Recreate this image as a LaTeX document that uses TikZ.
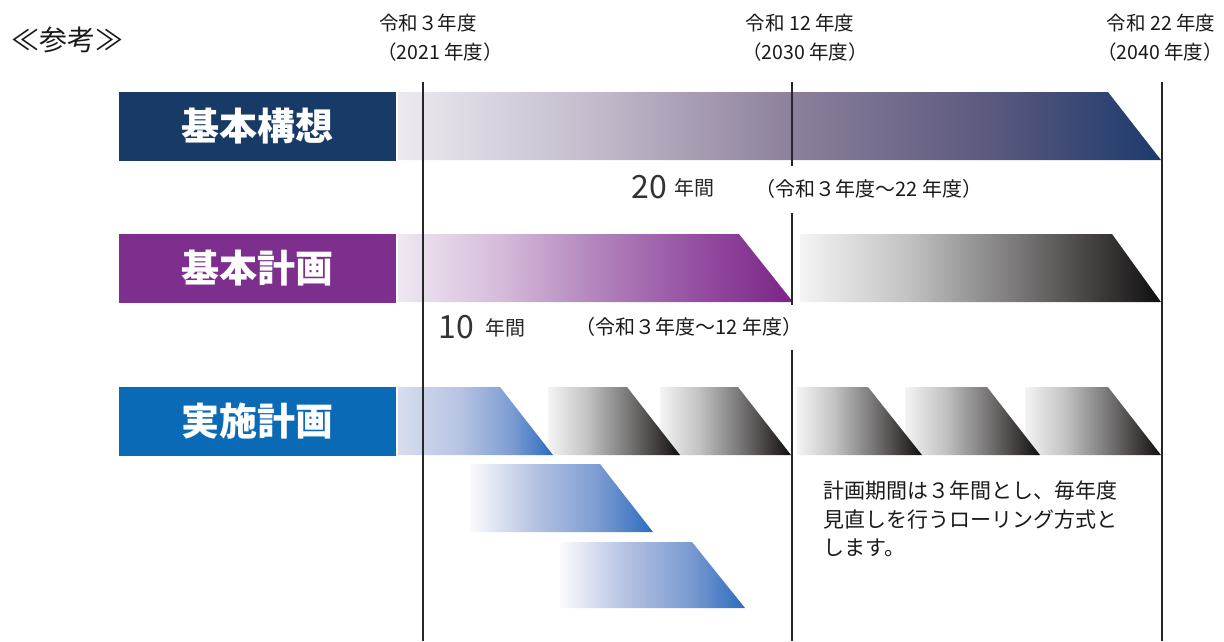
\documentclass[tikz,border=0pt]{standalone}
\usepackage{fontspec}
\setmainfont{Noto Sans CJK JP}
\definecolor{navy}{HTML}{173A66}
\definecolor{purp}{HTML}{7E2F8E}
\definecolor{jblue}{HTML}{0B6AB6}
\definecolor{txt}{HTML}{1A1A1A}
% bar 1 colours
\definecolor{ka}{HTML}{ECEAF0}
\definecolor{kb}{HTML}{C3BACB}
\definecolor{kc}{HTML}{8B7F9B}
\definecolor{kd}{HTML}{5A587E}
\definecolor{ke}{HTML}{1B3B6C}
% purple
\definecolor{pa}{HTML}{EFE8F1}
\definecolor{pb}{HTML}{D5BBDA}
\definecolor{pc}{HTML}{AF80B9}
\definecolor{pd}{HTML}{924A9F}
\definecolor{pe}{HTML}{7B2487}
% gray
\definecolor{ga}{HTML}{F4F4F4}
\definecolor{gb}{HTML}{C2C2C2}
\definecolor{gc}{HTML}{7A7878}
\definecolor{gd}{HTML}{3C3838}
\definecolor{ge}{HTML}{0E0E0E}
% blue
\definecolor{ba}{HTML}{D8DDEE}
\definecolor{bw}{HTML}{FBFBFE}
\definecolor{bb}{HTML}{B7C4E3}
\definecolor{bc}{HTML}{7B9BD1}
\definecolor{bd}{HTML}{2C6CBF}
\pgfdeclarehorizontalshading{shKousou}{100bp}{color(0bp)=(ka); color(25bp)=(ka); color(38bp)=(kb); color(51bp)=(kc); color(64bp)=(kd); color(75bp)=(ke); color(100bp)=(ke)}
\pgfdeclarehorizontalshading{shPurple}{100bp}{color(0bp)=(pa); color(25bp)=(pa); color(38bp)=(pb); color(51bp)=(pc); color(64bp)=(pd); color(75bp)=(pe); color(100bp)=(pe)}
\pgfdeclarehorizontalshading{shGray}{100bp}{color(0bp)=(ga); color(25bp)=(ga); color(40bp)=(gb); color(55bp)=(gc); color(67bp)=(gd); color(75bp)=(ge); color(100bp)=(ge)}
\pgfdeclarehorizontalshading{shBlueA}{100bp}{color(0bp)=(ba); color(25bp)=(ba); color(45bp)=(bb); color(62bp)=(bc); color(75bp)=(bd); color(100bp)=(bd)}
\pgfdeclarehorizontalshading{shBlueF}{100bp}{color(0bp)=(bw); color(25bp)=(bw); color(42bp)=(bb); color(60bp)=(bc); color(75bp)=(bd); color(100bp)=(bd)}
\begin{document}
\begin{tikzpicture}[x=1pt,y=-1pt,
  catbox/.style={minimum width=277pt, minimum height=69pt, inner sep=0pt, text=white,
    font=\fontsize{38}{40}\selectfont\bfseries},
  yearlbl/.style={inner sep=0pt, text=txt, font=\fontsize{19.5}{22}\selectfont},
  spanlbl/.style={inner sep=0pt, text=txt, font=\fontsize{20}{22}\selectfont},
  bignum/.style={inner sep=0pt, text=black!80, font=\fontsize{32}{34}\selectfont},
  nenkan/.style={inner sep=0pt, text=black!85, font=\fontsize{20}{22}\selectfont},
  vline/.style={line width=1.4pt, black!85}]
\useasboundingbox (0,0) rectangle (1224,641);
\fill[white] (0,0) rectangle (1224,641);

% title and header labels
\node[inner sep=0pt, text=txt, font=\fontsize{28}{30}\selectfont] (sankou) at (68,40) {≪参考≫};
\node[yearlbl] (h1a) at (428,23) {令和３年度};
\node[yearlbl] (h1b) at (440,52) {（2021 年度）};
\node[yearlbl] (h2a) at (800,23) {令和 12 年度};
\node[yearlbl] (h2b) at (805,52) {（2030 年度）};
\node[yearlbl] (h3a) at (1161,23) {令和 22 年度};
\node[yearlbl] (h3b) at (1160,52) {（2040 年度）};

% category boxes
\node[catbox, fill=navy] (kousou) at (257.5,126.5) {基本構想};
\node[catbox, fill=purp] (keikaku) at (257.5,268.5) {基本計画};
\node[catbox, fill=jblue] (jisshi) at (257.5,421.5) {実施計画};

% bar 1: basic concept (20 years)
\shade[shading=shKousou] (398,92) -- (1108,92) -- (1161,160) -- (398,160) -- cycle;
% bar 2: basic plan (10 years) and next term
\shade[shading=shPurple] (398,234) -- (739,234) -- (793,302) -- (398,302) -- cycle;
\shade[shading=shGray] (800,234) -- (1112,234) -- (1161,302) -- (800,302) -- cycle;
% bar 3: rolling implementation plans
\shade[shading=shGray] (1025,387) -- (1108,387) -- (1161,455) -- (1025,455) -- cycle;
\shade[shading=shGray] (905,387) -- (987,387) -- (1040,455) -- (905,455) -- cycle;
\shade[shading=shGray] (797,387) -- (868,387) -- (922,455) -- (797,455) -- cycle;
\shade[shading=shGray] (660,387) -- (738,387) -- (791,455) -- (660,455) -- cycle;
\shade[shading=shGray] (548,387) -- (627,387) -- (680,455) -- (548,455) -- cycle;
\shade[shading=shBlueA] (398,387) -- (500,387) -- (553,455) -- (398,455) -- cycle;
\shade[shading=shBlueF] (470,464) -- (600,464) -- (653,532) -- (470,532) -- cycle;
\shade[shading=shBlueF] (560,542) -- (692,542) -- (745,608) -- (560,608) -- cycle;

% span labels
\node[bignum, anchor=east] (n20) at (667,187) {20};
\node[nenkan, anchor=west] (nk20) at (674,188) {年間};
\node[spanlbl] (s20) at (869,189) {（令和３年度～22 年度）};
\node[bignum, anchor=east] (n10) at (474,327) {10};
\node[nenkan, anchor=west] (nk10) at (485,328) {年間};
\node[spanlbl] (s10) at (689,327) {（令和３年度～12 年度）};

% note
\node[anchor=north west, align=left, inner sep=0pt, text=txt,
  font=\fontsize{21}{28.5}\selectfont] (note) at (823,481)
  {計画期間は３年間とし、毎年度\\見直しを行うローリング方式と\\します。};

% year lines
\coordinate (v1t) at (423,82);  \coordinate (v1b) at (423,641);
\coordinate (v2a) at (792,82);  \coordinate (v2b) at (792,166);
\coordinate (v2c) at (792,213); \coordinate (v2d) at (792,305);
\coordinate (v2e) at (792,350); \coordinate (v2f) at (792,641);
\coordinate (v3t) at (1162,82); \coordinate (v3b) at (1162,641);
\draw[vline] (v1t) -- (v1b);
\draw[vline] (v2a) -- (v2b);
\draw[vline] (v2c) -- (v2d);
\draw[vline] (v2e) -- (v2f);
\draw[vline] (v3t) -- (v3b);
\end{tikzpicture}
\end{document}
